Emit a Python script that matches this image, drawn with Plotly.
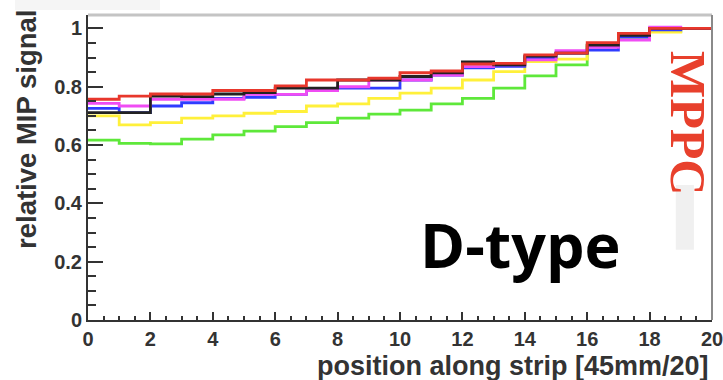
import plotly.graph_objects as go

# bin edges along the strip (20 bins of 45mm/20)
edges = list(range(0, 21))

# relative MIP signal per bin, one list per strip
sig_black = [0.711, 0.711, 0.768, 0.766, 0.775, 0.780, 0.795, 0.795, 0.823, 0.823,
             0.835, 0.848, 0.885, 0.875, 0.905, 0.915, 0.943, 0.976, 1.000, 1.000]
sig_blue = [0.726, 0.711, 0.734, 0.745, 0.760, 0.764, 0.774, 0.787, 0.795, 0.795,
            0.823, 0.840, 0.865, 0.870, 0.900, 0.915, 0.926, 0.970, 0.995, 1.000]
sig_magenta = [0.743, 0.734, 0.757, 0.757, 0.757, 0.774, 0.774, 0.787, 0.800, 0.823,
               0.823, 0.840, 0.869, 0.875, 0.892, 0.924, 0.935, 0.960, 1.004, 1.000]
sig_yellow = [0.700, 0.669, 0.677, 0.692, 0.700, 0.709, 0.715, 0.734, 0.741, 0.760,
              0.778, 0.795, 0.823, 0.852, 0.886, 0.895, 0.940, 0.970, 0.987, 1.000]
sig_green = [0.617, 0.606, 0.604, 0.620, 0.635, 0.648, 0.663, 0.677, 0.692, 0.706,
             0.720, 0.741, 0.760, 0.795, 0.837, 0.875, 0.940, 0.970, 0.990, 1.000]
sig_red = [0.757, 0.768, 0.775, 0.775, 0.787, 0.787, 0.803, 0.823, 0.823, 0.829,
           0.848, 0.854, 0.878, 0.880, 0.909, 0.915, 0.951, 0.983, 1.000, 1.000]

series = [
    (sig_green, "#5ee83a"),
    (sig_yellow, "#fff03a"),
    (sig_blue, "#2f3cff"),
    (sig_magenta, "#f04cf4"),
    (sig_black, "#222222"),
    (sig_red, "#e8372c"),
]

fig = go.Figure()
for vals, col in series:
    fig.add_trace(go.Scatter(
        x=edges, y=vals + [vals[-1]], mode="lines",
        line=dict(color=col, width=2.8, shape="hv"),
        showlegend=False, hoverinfo="skip",
    ))

tick_font = dict(family="Liberation Sans", size=20, color="#333333", weight="bold")

fig.update_layout(
    width=723, height=380,
    margin=dict(l=88, r=11, t=15, b=60, autoexpand=False),
    paper_bgcolor="white", plot_bgcolor="white",
    xaxis=dict(
        range=[0, 20], dtick=2, tick0=0, ticks="inside", ticklen=8, tickwidth=1.5,
        tickcolor="#333", showline=True, linecolor="#333", linewidth=2,
        showgrid=False, zeroline=False, tickfont=tick_font, automargin=False,
        ticklabeloverflow="allow",
        minor=dict(dtick=0.5, ticks="inside", ticklen=4, tickcolor="#333", showgrid=False),
    ),
    yaxis=dict(
        range=[0, 1.046], ticks="inside", ticklen=15, tickwidth=1.5,
        tickcolor="#333", showline=True, linecolor="#333", linewidth=2,
        showgrid=False, zeroline=False, tickfont=tick_font, automargin=False,
        ticklabeloverflow="allow",
        tickvals=[0, 0.2, 0.4, 0.6, 0.8, 1.0], ticktext=["0", "0.2", "0.4", "0.6", "0.8", "1"],
        minor=dict(dtick=0.05, tick0=0, ticks="inside", ticklen=8, tickcolor="#333", showgrid=False),
    ),
    shapes=[
        # faint strip along the top-left of the page
        dict(type="rect", xref="paper", yref="paper", x0=-(88 - 15) / 624, x1=(160 - 88) / 624,
             y0=(320 - 10) / 305, y1=320 / 305,
             fillcolor="#f5f5f5", line=dict(width=0), layer="below"),
        # top and right frame edges
        dict(type="line", xref="paper", yref="paper", x0=0, x1=1, y0=1, y1=1,
             line=dict(color="#c4c4c4", width=3)),
        dict(type="line", xref="paper", yref="paper", x0=1, x1=1, y0=0, y1=1,
             line=dict(color="#8a8a8a", width=2)),
        # faint band below the sensor label
        dict(type="rect", xref="paper", yref="paper", x0=0.942, x1=0.971, y0=0.23, y1=0.443,
             fillcolor="#f0f0f0", line=dict(width=0), layer="below"),
    ],
    annotations=[
        dict(text="relative MIP signal", xref="paper", yref="paper", x=(26 - 88) / 624,
             y=(320 - 130) / 305,
             textangle=-90, showarrow=False, xanchor="center", yanchor="middle",
             font=dict(family="Liberation Sans", size=27.5, color="#333333", weight="bold")),
        dict(text="position along strip [45mm/20]", xref="paper", yref="paper", x=(711 - 88) / 624,
             y=-(366 - 320) / 305,
             showarrow=False, xanchor="right", yanchor="middle",
             font=dict(family="Liberation Sans", size=27, color="#333333", weight="bold")),
        dict(text="D-type", xref="paper", yref="paper", x=(520 - 88) / 624,
             y=(320 - 245) / 305,
             showarrow=False, xanchor="center", yanchor="middle",
             font=dict(family="Open Sans", size=61, color="black", weight="bold")),
        dict(text="MPPC", xref="paper", yref="paper", x=(688 - 88) / 624,
             y=(320 - 123) / 305,
             textangle=90, showarrow=False, xanchor="center", yanchor="middle",
             font=dict(family="Liberation Serif", size=50, color="#e8402c", weight="bold")),
    ],
)

fig.write_html("out.html")
